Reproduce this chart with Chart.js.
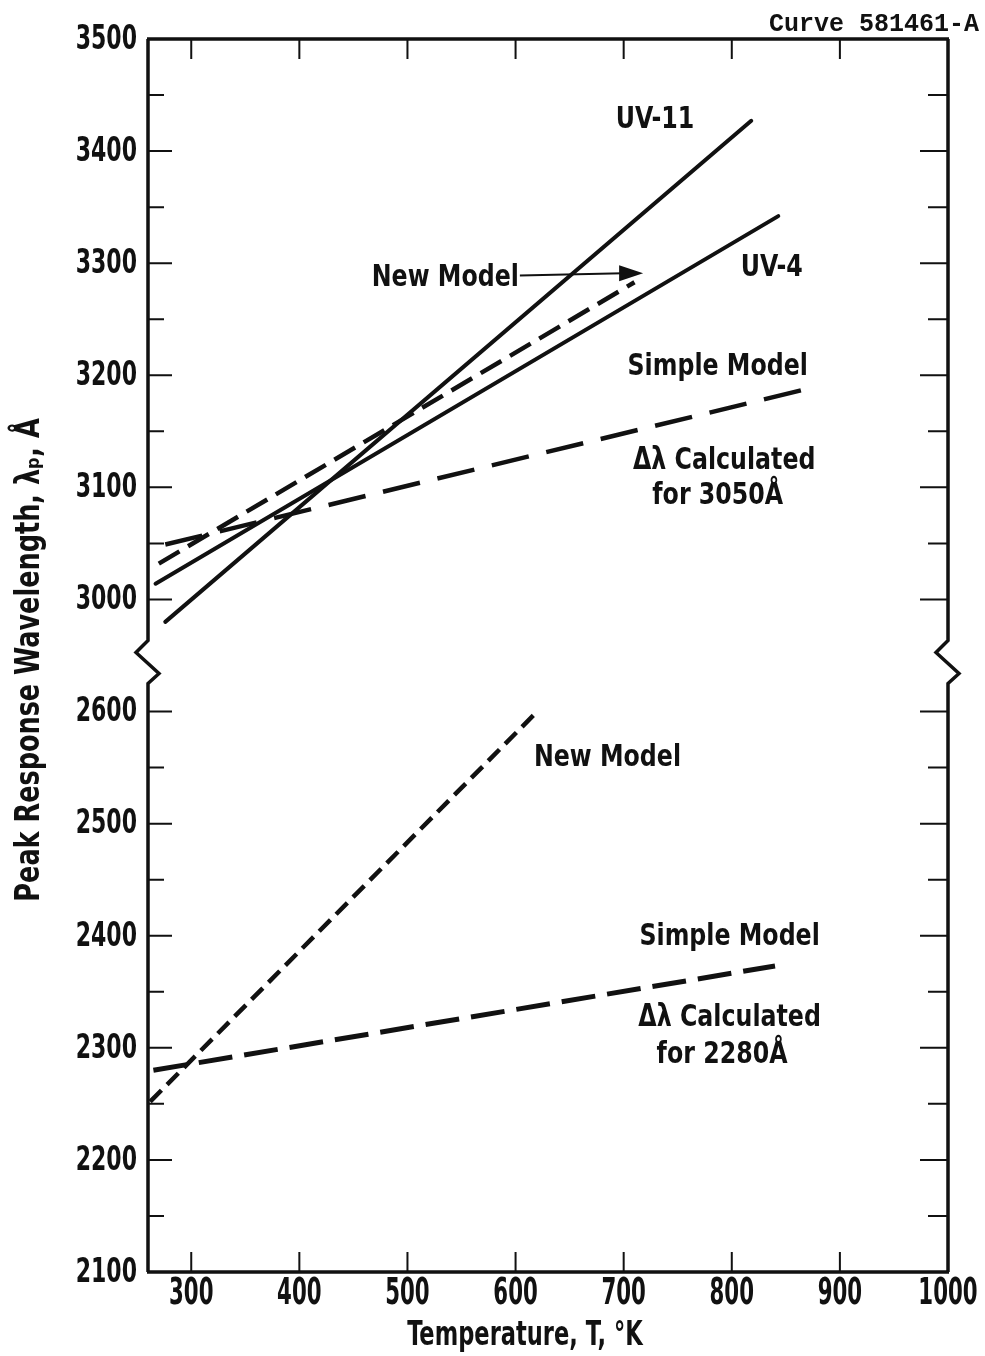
<!DOCTYPE html>
<html>
<head>
<meta charset="utf-8">
<script src="https://cdn.jsdelivr.net/npm/chart.js@4.4.0/dist/chart.umd.min.js"></script>
<style>
  html, body { margin: 0; padding: 0; background: #fff; }
</style>
</head>
<body>
<canvas id="canvas" width="985" height="1356"></canvas>
<script>
// tick labels
let tempTicks = [300, 400, 500, 600, 700, 800, 900, 1000];
let waveTicks = [2100, 2200, 2300, 2400, 2500, 2600, 3000, 3100, 3200, 3300, 3400, 3500];

// series: temperature (K) and peak wavelength (A) at the ends of each line
let uv11Temp = [276, 818];
let uv11Wave = [2980, 3427];
let uv4Temp = [267, 843];
let uv4Wave = [3014, 3342];
let newUpperTemp = [270, 710];
let newUpperWave = [3032, 3283];
let simpleUpperTemp = [276, 879];
let simpleUpperWave = [3049, 3190];
let newLowerTemp = [262, 620];
let newLowerWave = [2252, 2600];
let simpleLowerTemp = [265, 840];
let simpleLowerWave = [2280, 2373];

// broken axis: everything from 3000 up is pulled down by 300 on the drawn scale
let breakShift = 300;
let breakAt = 2650;
let toAxis = function(w) { return w >= 2800 ? w - breakShift : w; };

let ink = '#111';
let cond = "'DejaVu Sans Condensed', 'DejaVu Sans', sans-serif";

let pts = function(ts, ws) {
  return ts.map(function(t, i) { return { x: t, y: toAxis(ws[i]) }; });
};

let line = function(label, ts, ws, dash, width) {
  return {
    label: label,
    data: pts(ts, ws),
    showLine: true,
    pointRadius: 0,
    borderColor: ink,
    borderWidth: width,
    borderDash: dash,
    borderCapStyle: dash.length ? 'butt' : 'round'
  };
};

let notes = [
  { text: 'UV-11', t: 729, w: 3428 },
  { text: 'New Model', t: 535, w: 3287 },
  { text: 'UV-4', t: 837, w: 3296 },
  { text: 'Simple Model', t: 787, w: 3207 },
  { text: '\u0394\u03bb Calculated', t: 793, w: 3124 },
  { text: 'for 3050\u00c5', t: 787, w: 3092 },
  { text: 'New Model', t: 685, w: 2559 },
  { text: 'Simple Model', t: 798, w: 2399 },
  { text: '\u0394\u03bb Calculated', t: 798, w: 2327 },
  { text: 'for 2280\u00c5', t: 791, w: 2294 }
];
let arrowFrom = { t: 604, w: 3289 };
let arrowTo = { t: 718, w: 3291 };

// condensed look: squeeze the text horizontally
let say = function(ctx, text, x, y, size, sx, align, rot) {
  ctx.save();
  ctx.translate(x, y);
  if (rot) ctx.rotate(rot);
  ctx.scale(sx, 1);
  ctx.font = 'bold ' + size + 'px ' + cond;
  ctx.textAlign = align;
  ctx.textBaseline = 'middle';
  ctx.fillText(text, 0, 0);
  ctx.restore();
};

let framePlugin = {
  id: 'frame',
  afterDraw(chart) {
    let ctx = chart.ctx;
    let a = chart.chartArea;
    let xs = chart.scales.x, ys = chart.scales.y;
    let yb = ys.getPixelForValue(breakAt);
    ctx.save();
    ctx.strokeStyle = ink;
    ctx.fillStyle = ink;
    ctx.lineWidth = 3.5;
    ctx.lineJoin = 'miter';
    let side = function(x) {
      ctx.beginPath();
      ctx.moveTo(x, a.top);
      ctx.lineTo(x, yb - 15);
      ctx.lineTo(x - 12, yb - 3);
      ctx.lineTo(x + 11, yb + 18);
      ctx.lineTo(x, yb + 28);
      ctx.lineTo(x, a.bottom);
      ctx.stroke();
    };
    side(a.left);
    side(a.right);
    ctx.beginPath();
    ctx.moveTo(a.left - 1, a.top);
    ctx.lineTo(a.right + 1, a.top);
    ctx.moveTo(a.left - 1, a.bottom);
    ctx.lineTo(a.right + 1, a.bottom);
    ctx.stroke();

    // inward tick marks
    ctx.lineWidth = 2;
    ctx.beginPath();
    for (let v = 2150; v < 3200; v += 50) {
      if (v === breakAt) continue;
      let y = ys.getPixelForValue(v);
      let major = v % 100 === 0;
      ctx.moveTo(a.left, y);
      ctx.lineTo(a.left + (major ? 24 : 16), y);
      ctx.moveTo(a.right, y);
      ctx.lineTo(a.right - (major ? 28 : 20), y);
    }
    tempTicks.forEach(function(t) {
      let x = xs.getPixelForValue(t);
      if (x >= a.right - 2) return;
      ctx.moveTo(x, a.bottom);
      ctx.lineTo(x, a.bottom - 20);
      ctx.moveTo(x, a.top);
      ctx.lineTo(x, a.top + 20);
    });
    ctx.stroke();

    // tick labels
    waveTicks.forEach(function(w) {
      say(ctx, String(w), a.left - 11, ys.getPixelForValue(toAxis(w)) + 1, 34, 0.72, 'right');
    });
    tempTicks.forEach(function(t) {
      say(ctx, String(t), xs.getPixelForValue(t), a.bottom + 22, 37, 0.64, 'center');
    });

    // axis titles
    say(ctx, 'Temperature, T, \u00b0K', a.left + 377, a.bottom + 64, 33, 0.76, 'center');
    say(ctx, 'Peak Response Wavelength, \u03bb\u209a, \u00c5', 30, 660, 33, 0.86, 'center', -Math.PI / 2);

    // labels on the plot
    notes.forEach(function(n) {
      say(ctx, n.text, xs.getPixelForValue(n.t), ys.getPixelForValue(toAxis(n.w)), 31, 0.85, 'center');
    });

    // arrow from the upper "New Model" label
    let x0 = xs.getPixelForValue(arrowFrom.t), y0 = ys.getPixelForValue(toAxis(arrowFrom.w));
    let x1 = xs.getPixelForValue(arrowTo.t), y1 = ys.getPixelForValue(toAxis(arrowTo.w));
    ctx.lineWidth = 2;
    ctx.beginPath();
    ctx.moveTo(x0, y0);
    ctx.lineTo(x1 - 20, y1);
    ctx.stroke();
    ctx.beginPath();
    ctx.moveTo(x1, y1);
    ctx.lineTo(x1 - 24, y1 - 8);
    ctx.lineTo(x1 - 24, y1 + 8);
    ctx.closePath();
    ctx.fill();

    // drawing number
    ctx.font = 'bold 25px "Liberation Mono", "DejaVu Sans Mono", monospace';
    ctx.textAlign = 'right';
    ctx.textBaseline = 'alphabetic';
    ctx.fillText('Curve 581461-A', chart.width - 6, a.top - 8);
    ctx.restore();
  }
};

let ctx = document.getElementById('canvas').getContext('2d');
let chart = new Chart(ctx, {
  type: 'scatter',
  data: {
    datasets: [
      line('UV-11', uv11Temp, uv11Wave, [], 4),
      line('UV-4', uv4Temp, uv4Wave, [], 4),
      line('New Model', newUpperTemp, newUpperWave, [24, 10], 4.5),
      line('Simple Model', simpleUpperTemp, simpleUpperWave, [38, 18], 4.5),
      line('New Model (lower)', newLowerTemp, newLowerWave, [16, 8], 4.5),
      line('Simple Model (lower)', simpleLowerTemp, simpleLowerWave, [34, 12], 5)
    ]
  },
  options: {
    responsive: false,
    animation: false,
    layout: { padding: { top: 39, right: 37, left: 0, bottom: 0 } },
    plugins: {
      legend: { display: false },
      tooltip: { enabled: false }
    },
    scales: {
      x: {
        type: 'linear',
        min: 260,
        max: 1000,
        grid: { display: false, drawTicks: false },
        border: { display: false },
        ticks: { display: false },
        afterFit: function(scale) { scale.height = 84; }
      },
      y: {
        type: 'linear',
        min: 2100,
        max: 3200,
        grid: { display: false, drawTicks: false },
        border: { display: false },
        ticks: { display: false },
        afterFit: function(scale) { scale.width = 148; }
      }
    }
  },
  plugins: [framePlugin]
});
</script>
</body>
</html>
